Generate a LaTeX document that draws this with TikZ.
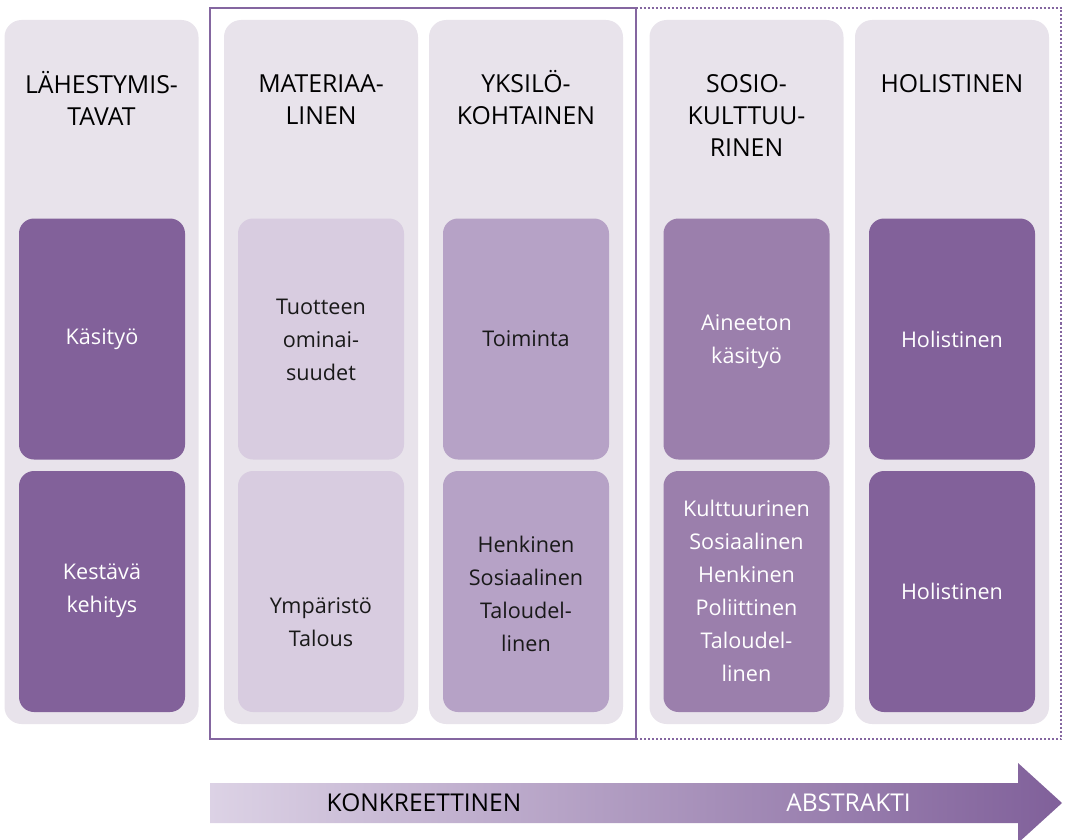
\documentclass[tikz,border=0pt]{standalone}
\usepackage{fontspec}
\setmainfont{Open Sans}
\definecolor{colbg}{HTML}{E8E3EB}
\definecolor{cdark}{HTML}{82619A}
\definecolor{clight}{HTML}{D8CCE0}
\definecolor{cmid}{HTML}{B6A2C6}
\definecolor{cfour}{HTML}{9B7FAC}
\definecolor{cframe}{HTML}{8466A0}
\definecolor{arrowleft}{HTML}{DCD2E5}
\definecolor{arrowright}{HTML}{80609A}
\tikzset{
  colbox/.style={fill=colbg, draw=none, rounded corners=17pt, minimum width=194pt, minimum height=704pt, inner sep=0pt},
  innerbox/.style={draw=none, rounded corners=15pt, minimum width=166pt, minimum height=241pt, inner sep=0pt},
  headtext/.style={align=center, inner sep=0pt, text=black, font=\fontsize{24.8}{32}\selectfont},
  boxtext/.style={align=center, inner sep=0pt, font=\fontsize{21.6}{33}\selectfont},
  wtext/.style={boxtext, text=white},
  btext/.style={boxtext, text=black!90},
  arrowtext/.style={inner sep=0pt, font=\fontsize{24.5}{28}\selectfont}
}
\begin{document}
\begin{tikzpicture}[x=1pt,y=-1pt]
\useasboundingbox (0,0) rectangle (1066,840);
% columns
\node[colbox] (col1) at (101.5,372) {};
\node[colbox] (col2) at (321,372) {};
\node[colbox] (col3) at (526,372) {};
\node[colbox] (col4) at (746.5,372) {};
\node[colbox] (col5) at (952,372) {};
% frames
\draw[cframe, line width=2pt] (210,8) rectangle (635.5,739);
\draw[cframe, line width=2pt, dotted] (635.5,8) -- (1061,8) -- (1061,739) -- (635.5,739);
% headers
\node[headtext] (h1) at (101.5,98) {LÄHESTYMIS-\\TAVAT};
\node[headtext] (h2) at (321,100) {MATERIAA-\\LINEN};
\node[headtext] (h3) at (526,98) {YKSILÖ-\\KOHTAINEN};
\node[headtext] (h4) at (746.5,116) {SOSIO-\\KULTTUU-\\RINEN};
\node[headtext] (h5) at (952,84) {HOLISTINEN};
% inner boxes
\node[innerbox, fill=cdark] (b11) at (102,339) {};
\node[innerbox, fill=cdark] (b12) at (102,591.5) {};
\node[innerbox, fill=clight] (b21) at (321,339) {};
\node[innerbox, fill=clight] (b22) at (321,591.5) {};
\node[innerbox, fill=cmid] (b31) at (526,339) {};
\node[innerbox, fill=cmid] (b32) at (526,591.5) {};
\node[innerbox, fill=cfour] (b41) at (746.5,339) {};
\node[innerbox, fill=cfour] (b42) at (746.5,591.5) {};
\node[innerbox, fill=cdark] (b51) at (952,339) {};
\node[innerbox, fill=cdark] (b52) at (952,591.5) {};
% box texts
\node[wtext] (t11) at (102,339) {Käsityö};
\node[wtext] (t12) at (102,591) {Kestävä\\kehitys};
\node[btext] (t21) at (321,340) {Tuotteen\\ominai-\\suudet};
\node[btext] (t22) at (321,622) {Ympäristö\\Talous};
\node[btext] (t31) at (526,339) {Toiminta};
\node[btext] (t32) at (526,594) {Henkinen\\Sosiaalinen\\Taloudel-\\linen};
\node[wtext] (t41) at (746.5,342) {Aineeton\\käsityö};
\node[wtext] (t42) at (746.5,591) {Kulttuurinen\\Sosiaalinen\\Henkinen\\Poliittinen\\Taloudel-\\linen};
\node[wtext] (t51) at (952,339) {Holistinen};
\node[wtext] (t52) at (952,591) {Holistinen};
% arrow
\shade[left color=arrowleft, right color=arrowright] (210,783) -- (1018,783) -- (1018,763) -- (1062,803) -- (1018,843) -- (1018,823) -- (210,823) -- cycle;
\node[arrowtext, text=black] (konk) at (424,803) {KONKREETTINEN};
\node[arrowtext, text=white] (abs) at (848.5,803) {ABSTRAKTI};
\end{tikzpicture}
\end{document}
